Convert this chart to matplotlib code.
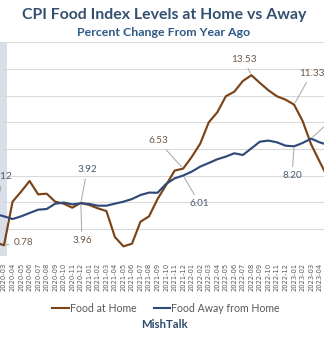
import matplotlib
matplotlib.use("Agg")
import matplotlib.pyplot as plt
from matplotlib.lines import Line2D

# ---------------- data ----------------
months = ["2020-01", "2020-02", "2020-03", "2020-04", "2020-05", "2020-06", "2020-07", "2020-08",
          "2020-09", "2020-10", "2020-11", "2020-12", "2021-01", "2021-02", "2021-03", "2021-04",
          "2021-05", "2021-06", "2021-07", "2021-08", "2021-09", "2021-10", "2021-11", "2021-12",
          "2022-01", "2022-02", "2022-03", "2022-04", "2022-05", "2022-06", "2022-07", "2022-08",
          "2022-09", "2022-10", "2022-11", "2022-12", "2023-01", "2023-02", "2023-03", "2023-04",
          "2023-05"]

food_home = [0.6, 1.0, 0.78, 4.05, 4.8, 5.6, 4.6, 4.65,
             4.05, 3.9, 3.6, 3.96, 3.8, 3.55, 3.35, 1.4,
             0.7, 0.9, 2.55, 2.95, 4.25, 5.3, 6.38, 6.53,
             7.4, 8.4, 10.0, 10.75, 11.95, 12.3, 13.1, 13.53,
             12.95, 12.4, 11.95, 11.7, 11.33, 10.1, 8.35, 7.05,
             5.8]

food_away = [3.1, 3.12, 2.95, 2.75, 2.95, 3.2, 3.45, 3.5,
             3.9, 3.98, 3.85, 3.92, 3.88, 3.75, 3.75, 3.9,
             4.05, 4.25, 4.55, 4.73, 4.72, 5.38, 5.8, 6.01,
             6.3, 6.68, 6.95, 7.23, 7.43, 7.68, 7.55, 8.05,
             8.55, 8.63, 8.5, 8.25, 8.20, 8.45, 8.78, 8.5,
             8.3]

tick_labels = months[2:40]          # 2020-03 .. 2023-04
first_tick = 2                      # index of 2020-03 in months

# labelled points: (month, text)
home_labels = [("2020-03", "0.78"), ("2020-12", "3.96"), ("2021-12", "6.53"),
               ("2022-08", "13.53"), ("2023-01", "11.33")]
away_labels = [("2020-02", "3.12"), ("2020-12", "3.92"), ("2021-12", "6.01"),
               ("2023-01", "8.20"), ("2023-03", "8.78")]

# ---------------- style ----------------
BROWN = "#7a4418"
BLUE = "#2f4a78"
LBL_BROWN = "#6e5a48"
LBL_BLUE = "#4a5a70"
LEADER = "#a6a6a6"
TITLE = "#34506f"
SUB = "#2e5a86"
GRAY = "#595959"
FONT = ["Lato", "DejaVu Sans"]

W, H = 324, 342
fig = plt.figure(figsize=(W / 100, H / 100), dpi=100)
fig.patch.set_facecolor("white")

top_px, bot_px = 42.3, 255.7
ax = fig.add_axes([0, 1 - bot_px / H, 1, (bot_px - top_px) / H])

x = [i - first_tick for i in range(len(months))]
idx = {m: i - first_tick for i, m in enumerate(months)}

# shaded band on the left
ax.axvspan(-3, 0.38, color="#d9dfe8", zorder=0, lw=0)

ax.plot(x, food_home, color=BROWN, lw=1.55, zorder=3, solid_joinstyle="round")
ax.plot(x, food_away, color=BLUE, lw=1.55, zorder=3, solid_joinstyle="round")

ax.set_xlim(-0.47, 37.51)
ax.set_ylim(0, 16)
ax.set_yticks(range(0, 17, 2))
ax.yaxis.grid(True, color="#dadada", lw=0.8, zorder=1)
ax.set_axisbelow(True)
for s in ax.spines.values():
    s.set_visible(False)
ax.tick_params(axis="y", left=False, labelleft=False)
ax.set_xticks(range(len(tick_labels)))
ax.set_xticklabels(tick_labels, rotation=90, fontsize=4.9, color=GRAY,
                   family=["DejaVu Sans"])
ax.tick_params(axis="x", length=0, pad=5)

# ---------------- data labels ----------------
def px2data(px, py):
    return ((px - 4) / 8.53, (255.7 - py) / 13.33)

home_text_px = {"0.78": (23.5, 242.5, "center"), "3.96": (82, 241, "center"),
                "6.53": (158, 141, "center"), "13.53": (243.5, 59.5, "center"),
                "11.33": (311.5, 73.5, "center")}
away_text_px = {"3.12": (12.5, 177, "right"), "3.92": (87, 169.5, "center"),
                "6.01": (199.5, 203.5, "center"), "8.20": (292, 176, "center"),
                "8.78": (338, 114, "center")}

for series, labels, tpos, col in ((food_home, home_labels, home_text_px, LBL_BROWN),
                                   (food_away, away_labels, away_text_px, LBL_BLUE)):
    for month, txt in labels:
        i = months.index(month)
        px, py, ha = tpos[txt]
        ax.annotate(txt, xy=(idx[month], series[i]), xytext=px2data(px, py),
                    ha=ha, va="center", fontsize=7.2, color=col, family=FONT,
                    annotation_clip=False, zorder=5,
                    arrowprops=dict(arrowstyle="-", color=LEADER, lw=0.7,
                                    shrinkA=1.5, shrinkB=1.5))

# ---------------- titles / legend / footer ----------------
fig.text(164 / W, 1 - 15 / H, "CPI Food Index Levels at Home vs Away", ha="center",
         va="center", fontsize=11.4, fontweight="bold", color=TITLE, family=FONT)
fig.text(164 / W, 1 - 33 / H, "Percent Change From Year Ago", ha="center",
         va="center", fontsize=8.9, fontweight="bold", color=SUB, family=FONT)

handles = [Line2D([], [], color=BROWN, lw=1.5), Line2D([], [], color=BLUE, lw=1.5)]
leg = fig.legend(handles, ["Food at Home", "Food Away from Home"], loc="center",
                 bbox_to_anchor=(166 / W, 1 - 308 / H), ncol=2, frameon=False,
                 handlelength=1.6, handletextpad=0.1, columnspacing=1.6,
                 prop={"family": FONT, "size": 7.6})
for t in leg.get_texts():
    t.set_color(GRAY)

fig.text(164 / W, 1 - 325 / H, "MishTalk", ha="center", va="center", fontsize=8.2,
         fontweight="bold", color="#2e4a6e", family=FONT)

fig.savefig("out.png", dpi=100)
